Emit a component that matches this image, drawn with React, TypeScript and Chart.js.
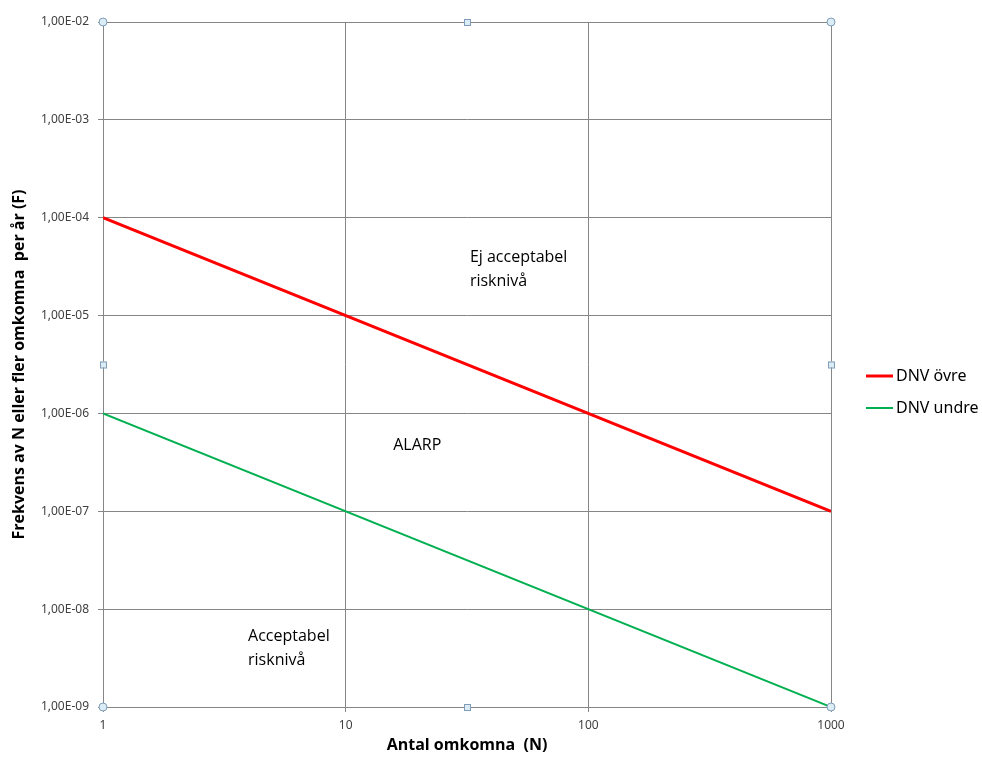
import React, { useEffect, useRef } from "react";
import { Chart, registerables } from "chart.js";

Chart.register(...registerables);

const xTicks = [1, 10, 100, 1000];
const xTickLabels = ["1", "10", "100", "1000"];
const yTicks = [1e-9, 1e-8, 1e-7, 1e-6, 1e-5, 1e-4, 1e-3, 1e-2];
const yTickLabels = ["1,00E-09", "1,00E-08", "1,00E-07", "1,00E-06", "1,00E-05", "1,00E-04", "1,00E-03", "1,00E-02"];

const nValues = [1, 1000];
const dnvOvre = [1e-4, 1e-7];
const dnvUndre = [1e-6, 1e-9];

const seriesNames = ["DNV övre", "DNV undre"];
const seriesColors = ["#ff0000", "#00b050"];
const seriesWidths = [3, 2];

const annotationTexts = [["Ej acceptabel", "risknivå"], ["ALARP"], ["Acceptabel", "risknivå"]];
const annotationN = [32.5, 15.7, 3.96];
const annotationF = [4.7e-5, 5.7e-7, 6.3e-9];

export default function App() {
  const ref = useRef<HTMLCanvasElement | null>(null);

  useEffect(() => {
    document.body.style.margin = "0";
    const canvas = ref.current;
    if (!canvas) return;

    const extras = {
      id: "extras",
      afterDraw(chart: any) {
        const ctx = chart.ctx;
        const xs = chart.scales.x;
        const ys = chart.scales.y;
        const a = chart.chartArea;
        // annotations
        ctx.save();
        ctx.fillStyle = "#000000";
        ctx.font = "16px 'Open Sans'";
        ctx.textAlign = "left";
        ctx.textBaseline = "top";
        annotationTexts.forEach((lines, i) => {
          const px = xs.getPixelForValue(annotationN[i]);
          const py = ys.getPixelForValue(annotationF[i]);
          lines.forEach((t, j) => ctx.fillText(t, px, py + j * 24));
        });
        // legend
        ctx.font = "16px 'Noto Sans'";
        ctx.textBaseline = "middle";
        seriesNames.forEach((name, i) => {
          const y = 376 + i * 32;
          ctx.strokeStyle = seriesColors[i];
          ctx.lineWidth = seriesWidths[i];
          ctx.beginPath();
          ctx.moveTo(866, y);
          ctx.lineTo(893, y);
          ctx.stroke();
          ctx.fillStyle = "#000000";
          ctx.fillText(name, 896, y);
        });
        // selection handles
        ctx.fillStyle = "#dcecf5";
        ctx.strokeStyle = "#7f9db9";
        ctx.lineWidth = 1;
        const corners = [[a.left, a.top], [a.right, a.top], [a.left, a.bottom], [a.right, a.bottom]];
        corners.forEach(([cx, cy]) => {
          ctx.beginPath();
          ctx.arc(cx, cy, 4, 0, Math.PI * 2);
          ctx.fill();
          ctx.stroke();
        });
        const mx = (a.left + a.right) / 2;
        const my = (a.top + a.bottom) / 2;
        const mids = [[mx, a.top], [mx, a.bottom], [a.left, my], [a.right, my]];
        mids.forEach(([cx, cy]) => {
          ctx.fillRect(cx - 3, cy - 3, 6, 6);
          ctx.strokeRect(cx - 3 + 0.5, cy - 3 + 0.5, 6, 6);
        });
        ctx.restore();
      },
    };

    const chart = new Chart(canvas, {
      type: "line",
      data: {
        datasets: [
          {
            label: seriesNames[0],
            data: nValues.map((n, i) => ({ x: n, y: dnvOvre[i] })),
            borderColor: seriesColors[0],
            borderWidth: seriesWidths[0],
            pointRadius: 0,
            fill: false,
          },
          {
            label: seriesNames[1],
            data: nValues.map((n, i) => ({ x: n, y: dnvUndre[i] })),
            borderColor: seriesColors[1],
            borderWidth: seriesWidths[1],
            pointRadius: 0,
            fill: false,
          },
        ],
      },
      options: {
        animation: false,
        responsive: false,
        layout: { padding: { top: 22, right: 151, bottom: 0, left: 0 } },
        plugins: { legend: { display: false }, tooltip: { enabled: false } },
        scales: {
          x: {
            type: "logarithmic",
            min: 1,
            max: 1000,
            afterBuildTicks: (s: any) => {
              s.ticks = xTicks.map((v) => ({ value: v }));
            },
            afterFit: (s: any) => {
              s.height = 50;
            },
            ticks: {
              callback: (v: any) => {
                const i = xTicks.indexOf(Number(v));
                return i >= 0 ? xTickLabels[i] : "";
              },
              font: { family: "'Noto Sans'", size: 12 },
              color: "#404040",
              padding: 6,
              maxRotation: 0,
              autoSkip: false,
            },
            grid: { color: "#868686", tickLength: 5, lineWidth: 1 },
            border: { color: "#868686" },
            title: {
              display: true,
              text: "Antal omkomna  (N)",
              font: { family: "'Open Sans'", size: 16, weight: "bold" },
              color: "#000000",
              padding: { top: 0, bottom: 2 },
            },
          },
          y: {
            type: "logarithmic",
            min: 1e-9,
            max: 1e-2,
            afterBuildTicks: (s: any) => {
              s.ticks = yTicks.map((v) => ({ value: v }));
            },
            afterFit: (s: any) => {
              s.width = 103;
            },
            ticks: {
              callback: (v: any) => {
                const val = Number(v);
                let best = 0;
                yTicks.forEach((t, i) => {
                  if (Math.abs(Math.log10(t) - Math.log10(val)) < Math.abs(Math.log10(yTicks[best]) - Math.log10(val))) best = i;
                });
                return yTickLabels[best];
              },
              font: { family: "'Noto Sans'", size: 12 },
              color: "#404040",
              padding: 9,
              autoSkip: false,
            },
            grid: { color: "#868686", tickLength: 5, lineWidth: 1 },
            border: { color: "#868686" },
            title: {
              display: true,
              text: "Frekvens av N eller fler omkomna  per år (F)",
              font: { family: "'Open Sans'", size: 16, weight: "bold" },
              color: "#000000",
              padding: { top: 10, bottom: 0 },
            },
          },
        },
      },
      plugins: [extras],
    } as any);

    return () => chart.destroy();
  }, []);

  return <canvas ref={ref} width={982} height={757} style={{ display: "block" }} />;
}
